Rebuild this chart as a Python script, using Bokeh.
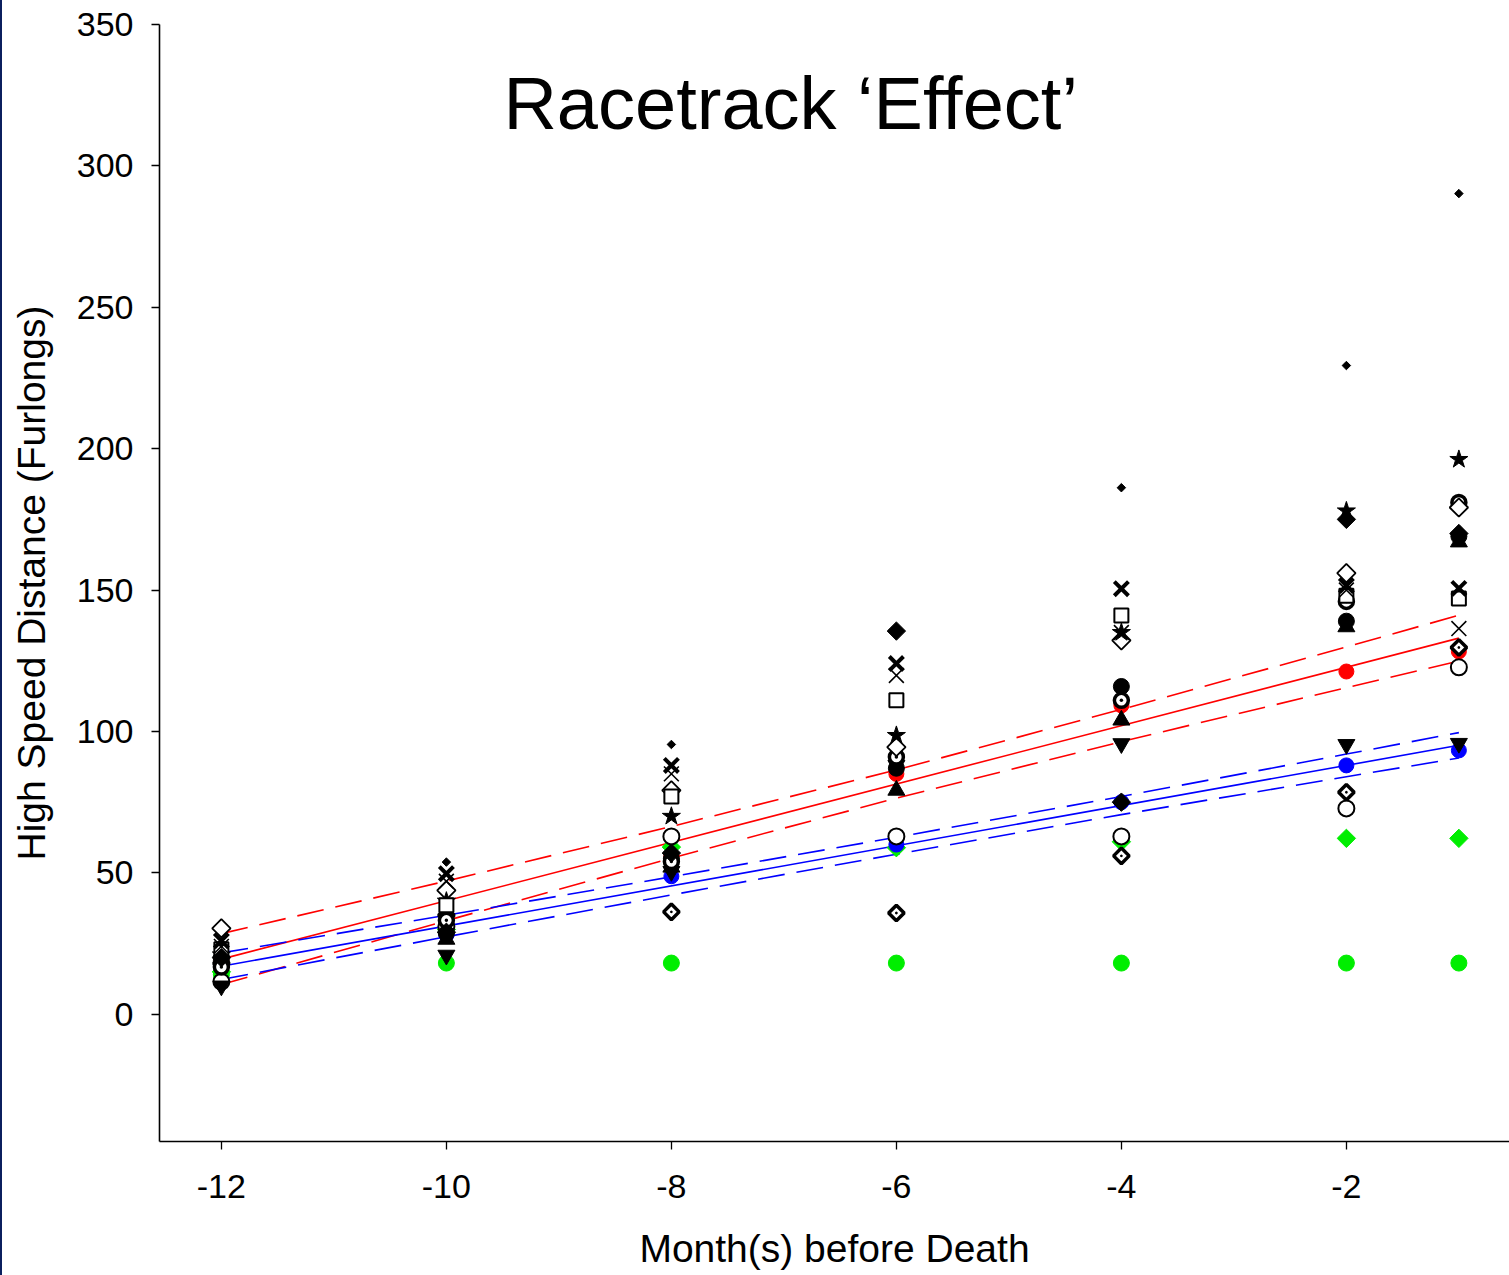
import numpy as np
from bokeh.plotting import figure
from bokeh.models import Range1d, FixedTicker, Label, Div
from bokeh.layouts import row
from bokeh.embed import file_html
from bokeh.resources import INLINE

# ---------------- data ----------------
months = [-12, -10, -8, -6, -4, -2, -1]
x_ticks = [-12, -10, -8, -6, -4, -2]
y_ticks = [0, 50, 100, 150, 200, 250, 300, 350]

small_dot      = [25.0, 53.8, 95.4, 135.0, 186.2, 229.4, 290.2]
filled_diamond = [20.0, 29.0, 57.0, 135.5, 75.0, 175.0, 170.0]
thick_x        = [26.0, 49.7, 88.0, 124.0, 150.5, 151.6, 150.6]
thin_x         = [24.0, 47.0, 85.0, 119.8, 135.0, 150.0, 136.4]
open_square    = [23.0, 38.5, 77.0, 111.0, 141.0, 148.0, 147.0]
star           = [21.0, 40.0, 70.0, 98.6, 135.0, 178.0, 196.2]
open_diamond   = [30.4, 43.8, 79.2, 94.5, 132.2, 156.0, 179.2]
circle_dot     = [16.7, 33.2, 54.0, 91.0, 111.0, 146.0, 181.0]
filled_circle  = [19.0, 28.6, 55.0, 87.0, 115.9, 139.0, 169.0]
triangle_up    = [22.0, 26.5, 52.0, 79.2, 104.0, 137.0, 167.0]
triangle_down  = [10.0, 20.9, 50.5, 88.0, 95.7, 95.4, 95.8]
diamond_dot    = [18.0, 35.0, 36.2, 35.8, 56.0, 78.5, 129.7]
open_circle    = [11.5, 31.0, 62.9, 62.9, 62.9, 72.8, 122.7]
red_mean       = [19.5, 30.0, 56.0, 85.0, 109.2, 121.2, 128.3]
blue_mean      = [17.0, 28.0, 48.8, 60.0, 75.0, 88.0, 93.3]
green_diamond  = [15.0, 30.0, 59.1, 58.9, 61.0, 62.2, 62.2]
green_circle   = [14.0, 18.1, 18.1, 18.1, 18.1, 18.1, 18.1]

fit_x = [-12, -1]
red_fit = [19.5, 133.0]
red_upper = [28.5, 47.1, 66.4, 86.4, 107.8, 129.9, 141.1]
red_lower = [10.5, 33.1, 55.2, 76.4, 96.4, 115.5, 124.9]
blue_fit = [17.0, 95.1]
blue_upper = [21.7, 35.0, 48.6, 62.6, 77.0, 92.0, 99.6]
blue_lower = [12.3, 27.4, 42.2, 56.6, 70.6, 84.0, 90.6]

# ---------------- figure ----------------
FONT = "Liberation Sans"
RED, BLUE, GREEN = "#ff0000", "#0000ff", "#00ee00"

p = figure(width=1507, height=1275,
           x_range=Range1d(-12.55, -0.55), y_range=Range1d(-45, 350),
           output_backend="svg", toolbar_location=None,
           min_border_left=157, min_border_right=0,
           min_border_top=24, min_border_bottom=134)
p.outline_line_color = None
p.xgrid.visible = False
p.ygrid.visible = False
p.background_fill_color = "white"
p.border_fill_color = "white"
p.margin = 0

for ax in (p.xaxis[0], p.yaxis[0]):
    ax.axis_line_color = "black"
    ax.axis_line_width = 1.6
    ax.major_tick_line_color = "black"
    ax.major_tick_line_width = 1.3
    ax.major_tick_in = 0
    ax.major_tick_out = 8
    ax.minor_tick_line_color = None
    ax.major_label_text_font = FONT
    ax.major_label_text_font_size = "34px"
    ax.major_label_text_color = "black"
    ax.axis_label_text_font = FONT
    ax.axis_label_text_font_size = "39px"
    ax.axis_label_text_font_style = "normal"
    ax.axis_label_text_color = "black"

p.xaxis.ticker = FixedTicker(ticks=x_ticks)
p.yaxis.ticker = FixedTicker(ticks=y_ticks)
p.xaxis.major_label_overrides = {t: str(t) for t in x_ticks}
p.xaxis.major_label_standoff = 25
p.yaxis.major_label_standoff = 18
p.xaxis.axis_label = "Month(s) before Death"
p.yaxis.axis_label = "High Speed Distance (Furlongs)"
p.xaxis.axis_label_standoff = 26
p.yaxis.axis_label_standoff = 21

# regression lines and confidence bands
DASH = "27 12"
p.line(fit_x, red_fit, line_color=RED, line_width=1.6)
p.line(months, red_upper, line_color=RED, line_width=1.6, line_dash=DASH)
p.line(months, red_lower, line_color=RED, line_width=1.6, line_dash=DASH)
p.line(fit_x, blue_fit, line_color=BLUE, line_width=1.6)
p.line(months, blue_upper, line_color=BLUE, line_width=1.6, line_dash=DASH)
p.line(months, blue_lower, line_color=BLUE, line_width=1.6, line_dash=DASH)

R45 = np.pi / 4
# (values, marker, size, fill, line color, line width, angle)
series = [
    (green_circle, "circle", 16, GREEN, GREEN, 1, 0),
    (green_diamond, "square", 13, GREEN, GREEN, 1, R45),
    (blue_mean, "circle", 15, BLUE, BLUE, 1, 0),
    (red_mean, "circle", 15, RED, RED, 1, 0),
    (open_circle, "circle", 16, "white", "black", 2, 0),
    (diamond_dot, "square_dot", 11, "white", "black", 3.5, R45),
    (triangle_down, "inverted_triangle", 17, "black", "black", 1, 0),
    (triangle_up, "triangle", 17, "black", "black", 1, 0),
    (filled_circle, "circle", 16, "black", "black", 1, 0),
    (circle_dot, "circle_dot", 14, "white", "black", 3.5, 0),
    (open_diamond, "square", 13, "white", "black", 1.8, R45),
    (star, "star", 19, "black", "black", 1, 0),
    (open_square, "square", 14, "white", "black", 2, 0),
    (thin_x, "x", 21, None, "black", 1.6, 0),
    (thick_x, "x", 20, None, "black", 4, 0),
    (filled_diamond, "square", 13, "black", "black", 1, R45),
    (small_dot, "square", 6, "black", "black", 1, R45),
]
for vals, mk, sz, fc, lc, lw, ang in series:
    p.scatter(months, vals, marker=mk, size=sz, fill_color=fc,
              line_color=lc, line_width=lw, angle=ang)

title = Label(x=-6.94, y=322, text="Racetrack \u2018Effect\u2019",
              text_font=FONT, text_font_size="74px", text_color="black",
              text_align="center", text_baseline="middle")
p.add_layout(title)

edge = Div(text="", width=2, height=1275, margin=0,
           styles={"background-color": "#0b1f5e"})
layout = row(edge, p, margin=0, spacing=0)

open("out.html", "w").write(file_html(layout, INLINE))
